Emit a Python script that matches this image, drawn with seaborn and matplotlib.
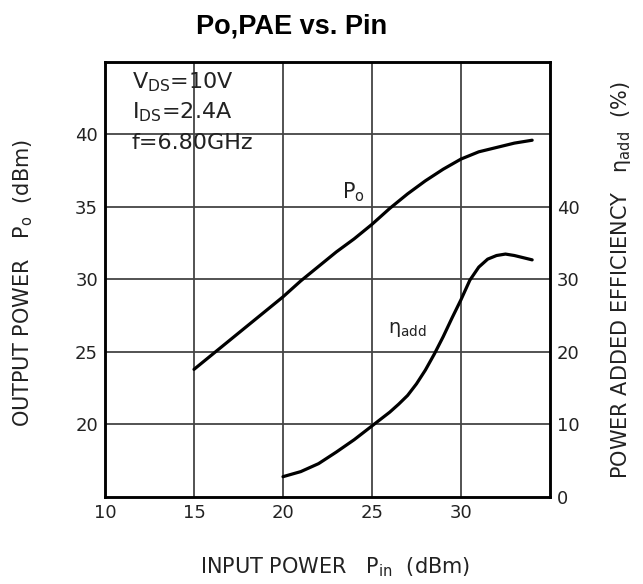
import pandas as pd
import seaborn as sns
import matplotlib.pyplot as plt

# values
pin_po = [15, 16, 17, 18, 19, 20, 21, 22, 23, 24, 25, 26, 27, 28, 29, 30, 31, 32, 33, 34]
po_dbm = [23.8, 24.8, 25.8, 26.8, 27.8, 28.8, 29.9, 30.9, 31.9, 32.8, 33.8, 34.9, 35.9,
          36.8, 37.6, 38.3, 38.8, 39.1, 39.4, 39.6]

pin_pae = [20, 21, 22, 23, 24, 25, 26, 26.5, 27, 27.5, 28, 28.5, 29, 29.5, 30, 30.5, 31,
           31.5, 32, 32.5, 33, 33.5, 34]
pae_pct = [2.8, 3.5, 4.6, 6.2, 7.9, 9.8, 11.7, 12.8, 14.0, 15.6, 17.5, 19.7, 22.1, 24.7,
           27.2, 29.9, 31.7, 32.8, 33.3, 33.5, 33.3, 33.0, 32.7]

x_ticks = [10, 15, 20, 25, 30]
left_ticks = [20, 25, 30, 35, 40]
right_ticks = [0, 10, 20, 30, 40]

conditions = ["V$_{\\mathrm{DS}}$=10V", "I$_{\\mathrm{DS}}$=2.4A", "f=6.80GHz"]

po_df = pd.DataFrame({"Pin": pin_po, "Po": po_dbm})
pae_df = pd.DataFrame({"Pin": pin_pae, "PAE": pae_pct})

sns.set_theme(style="white")
plt.rcParams['font.family'] = ['DejaVu Sans']
plt.rcParams['mathtext.default'] = 'regular'
ink = "#222222"

fig = plt.figure(figsize=(6.43, 5.84), dpi=100)
ax = fig.add_axes([0.1633, 0.149, 0.692, 0.745])
ax2 = ax.twinx()

line_kw = dict(color="black", linewidth=2.3, solid_joinstyle="round", solid_capstyle="round")
sns.lineplot(data=po_df, x="Pin", y="Po", ax=ax, **line_kw)
sns.lineplot(data=pae_df, x="Pin", y="PAE", ax=ax2, **line_kw)

ax.set_xlim(10, 35)
ax.set_ylim(15, 45)
ax2.set_ylim(0, 60)

ax.set_xticks(x_ticks)
ax.set_yticks(left_ticks)
ax2.set_yticks(right_ticks)
for v in [15, 20, 25, 30]:
    ax.axvline(v, color="#444444", lw=1.3, zorder=0)
for v in left_ticks:
    ax.axhline(v, color="#444444", lw=1.3, zorder=0)

for a in (ax, ax2):
    a.tick_params(length=0, labelsize=13, colors=ink, pad=5)
    for s in a.spines.values():
        s.set_color("black")
        s.set_linewidth(1.8)
ax.set_xlabel("")
ax.set_ylabel("")
ax2.set_ylabel("")

for i, t in enumerate(conditions):
    ax.text(11.5, 43.6 - i * 2.1, t, fontsize=16, color=ink, va="center")
ax.text(23.95, 36.0, "P$_o$", fontsize=15, color=ink, ha="center", va="center")
ax2.text(27.0, 23.1, "$\\eta_{add}$", fontsize=14, color=ink, ha="center", va="center")

fig.text(23 / 643, 1 - 283 / 584, "OUTPUT POWER   P$_o$  (dBm)",
         rotation=90, ha="center", va="center", fontsize=15, color=ink)
fig.text(621 / 643, 1 - 280 / 584, "POWER ADDED EFFICIENCY   $\\eta_{add}$  (%)",
         rotation=90, ha="center", va="center", fontsize=15, color=ink)
fig.text(335 / 643, 1 - 567 / 584, "INPUT POWER   P$_{in}$  (dBm)",
         ha="center", va="center", fontsize=15, color=ink)
fig.text(292 / 643, 1 - 26 / 584, "Po,PAE vs. Pin", ha="center", va="center",
         fontsize=19.5, fontweight="bold", color="black", family="Liberation Sans")

fig.savefig("out.png", dpi=100)
